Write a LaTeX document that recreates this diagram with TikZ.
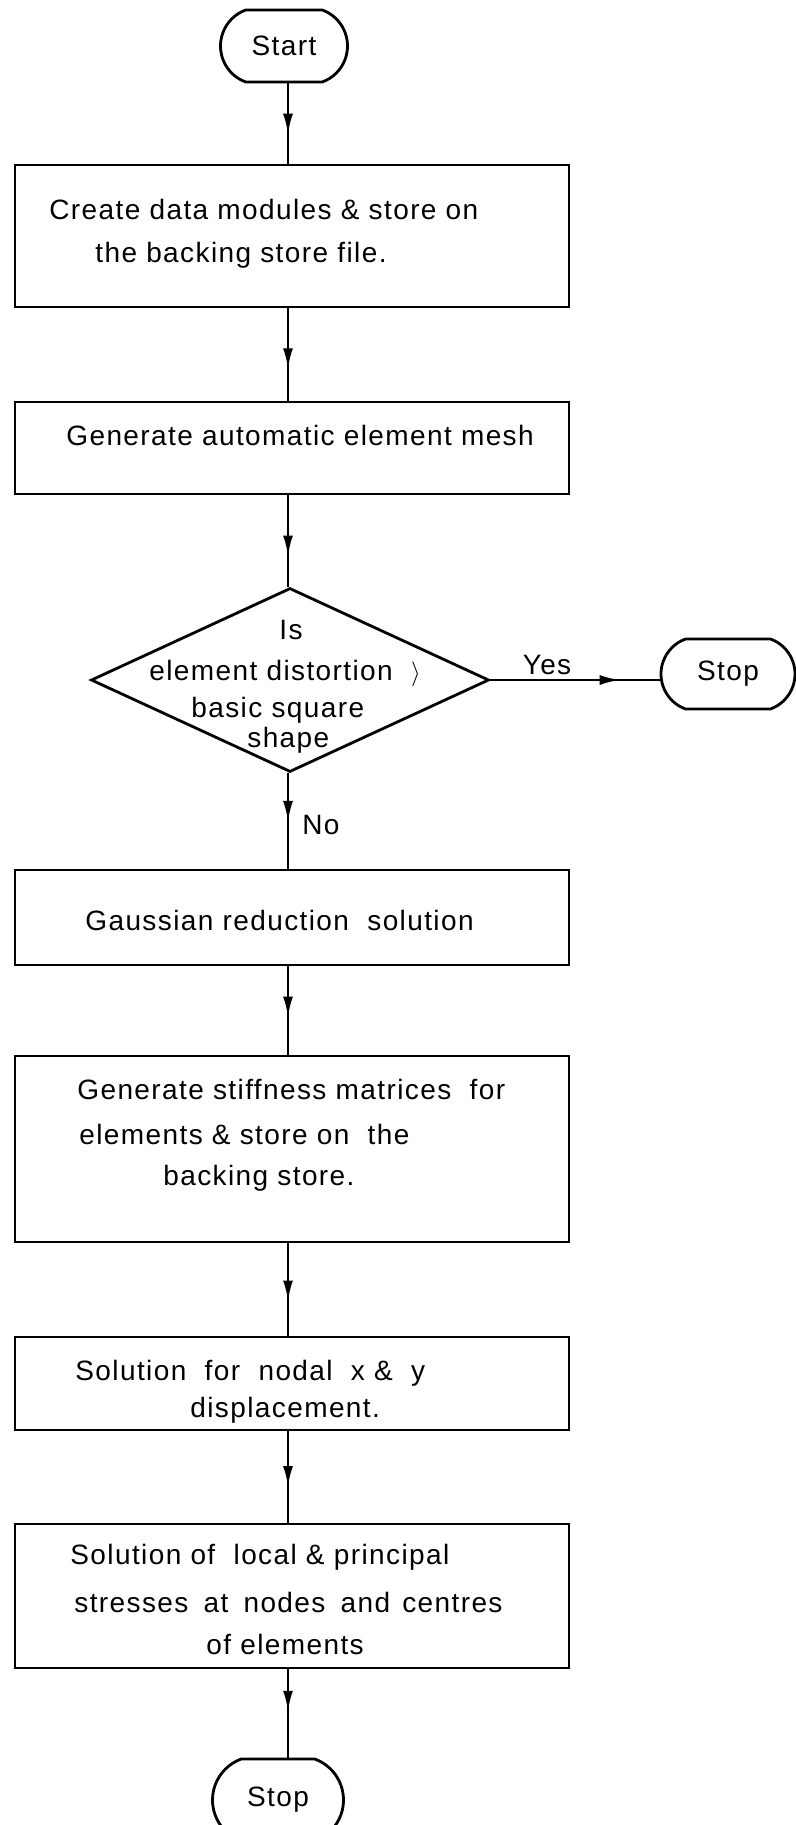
\documentclass[tikz,border=0pt]{standalone}
\usepackage{fontspec}
\setmainfont{Liberation Sans}[LetterSpace=5]
\usetikzlibrary{shapes.geometric,shapes.misc,arrows.meta,decorations.markings}
\begin{document}
\begin{tikzpicture}[x=1pt,y=-1pt,line width=2.8pt,
  every node/.style={font=\fontsize{28}{32}\selectfont},
  box/.style={draw,rectangle,inner sep=0pt,minimum width=554pt},
  term/.style={draw,rounded rectangle,rounded rectangle arc length=140,inner sep=0pt},
  dec/.style={draw,diamond,inner sep=0pt,aspect=2.16,minimum width=398pt,minimum height=184pt},
  txt/.style={inner sep=0pt,anchor=mid west},
  lbl/.style={inner sep=0pt},
  midarrow/.style={postaction={decorate,decoration={markings,mark=at position #1 with {\arrow{Latex[length=21pt,width=10pt]}}}}}
]
\useasboundingbox (0,0) rectangle (795,1825);
\coordinate (ax) at (288,0);

% shapes
\node[term,minimum width=127pt,minimum height=72pt] (start) at (284,46) {Start};
\node[box,minimum height=142pt] (b1) at (292,236) {};
\node[box,minimum height=92pt] (b2) at (292,448) {};
\node[dec] (dia) at (290,680) {};
\node[term,minimum width=134pt,minimum height=70pt] (stopr) at (728,674) {Stop};
\node[box,minimum height=95pt] (b3) at (292,917.5) {};
\node[box,minimum height=186pt] (b4) at (292,1149) {};
\node[box,minimum height=93pt] (b5) at (292,1383.5) {};
\node[box,minimum height=144pt] (b6) at (292,1596) {};
\node[term,minimum width=131pt,minimum height=82pt] (stopb) at (278,1800) {Stop};

% texts
\node[txt] (t11) at (48,217) {Create data modules \& store on};
\node[txt] (t12) at (94,260) {the backing store file.};
\node[txt] (t21) at (65,443) {Generate automatic element mesh};
\node[lbl] (q1) at (291,630) {Is};
\node[txt] (q2) at (148,678) {element distortion \ $\rangle$};
\node[txt] (q3) at (190,715) {basic square};
\node[txt] (q4) at (246,745) {shape};
\node[lbl] (yes) at (547,665) {Yes};
\node[lbl] (no) at (321,825) {No};
\node[txt] (t31) at (84,928) {Gaussian reduction \ solution};
\node[txt] (t41) at (76,1097) {Generate stiffness matrices \ for};
\node[txt] (t42) at (78,1142) {elements \& store on \ the};
\node[txt] (t43) at (162,1183) {backing store.};
\node[txt] (t51) at (74,1378) {Solution \ for \ nodal \ x \& \ y};
\node[txt] (t52) at (189,1415) {displacement.};
\node[txt] (t61) at (69,1562) {Solution of \ local \& principal};
\node[txt] (t62) at (73,1610) {stresses\hspace{6pt} at\hspace{6pt} nodes\hspace{6pt} and\hspace{3pt} centres};
\node[txt] (t63) at (205,1652) {of elements};

% connectors
\draw[midarrow=0.64] (start.south -| ax) -- (b1.north -| ax);
\draw[midarrow=0.66] (b1.south -| ax) -- (b2.north -| ax);
\draw[midarrow=0.67] (b2.south -| ax) -- (dia.north -| ax);
\draw[midarrow=0.77] (dia.east) -- (dia.east -| stopr.west);
\draw[midarrow=0.51] (dia.south -| ax) -- (b3.north -| ax);
\draw[midarrow=0.58] (b3.south -| ax) -- (b4.north -| ax);
\draw[midarrow=0.63] (b4.south -| ax) -- (b5.north -| ax);
\draw[midarrow=0.61] (b5.south -| ax) -- (b6.north -| ax);
\draw[midarrow=0.48] (b6.south -| ax) -- (stopb.north -| ax);
\end{tikzpicture}
\end{document}
